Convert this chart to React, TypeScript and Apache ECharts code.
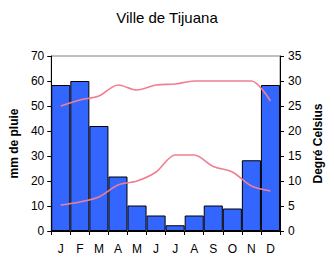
import React, { useEffect, useRef } from "react";
import * as echarts from "echarts";

const months = ["J", "F", "M", "A", "M", "J", "J", "A", "S", "O", "N", "D"];
const rainfall = [58.4, 60, 42, 21.8, 10.2, 6.2, 2.3, 6.2, 10.2, 9, 28.3, 58.4];
const tempMax = [25, 26.2, 27, 29.2, 28.2, 29.2, 29.4, 30, 30, 30, 30, 26];
const tempMin = [5.2, 5.8, 6.8, 9.2, 10, 11.8, 15.2, 15.2, 12.9, 11.8, 9, 8];

const font = "Arial, 'Liberation Sans', sans-serif";

export default function App() {
  const ref = useRef<HTMLDivElement>(null);
  useEffect(() => {
    const chart = echarts.init(ref.current!, null, { renderer: "svg" });
    chart.setOption({
      animation: false,
      backgroundColor: "#ffffff",
      title: {
        text: "Ville de Tijuana",
        left: "center",
        top: 5,
        textStyle: { fontFamily: font, fontSize: 15, fontWeight: "normal", color: "#000" },
      },
      grid: { left: 49, right: 54, top: 56, bottom: 35, show: true, borderColor: "#808080", borderWidth: 1 },
      xAxis: {
        type: "category",
        data: months,
        boundaryGap: true,
        axisLine: { lineStyle: { color: "#000", width: 1 } },
        axisTick: { show: true, alignWithLabel: false, length: 4, lineStyle: { color: "#000" } },
        axisLabel: { fontFamily: font, fontSize: 12, color: "#000", margin: 12 },
      },
      yAxis: [
        {
          type: "value",
          min: 0,
          max: 70,
          interval: 10,
          position: "left",
          name: "mm de pluie",
          nameLocation: "middle",
          nameRotate: 90,
          nameGap: 28,
          nameTextStyle: { fontFamily: font, fontSize: 12, fontWeight: "bold", color: "#000" },
          axisLine: { show: true, lineStyle: { color: "#000" } },
          axisTick: { show: true, length: 4, lineStyle: { color: "#000" } },
          axisLabel: { fontFamily: font, fontSize: 12, color: "#000", margin: 7 },
          splitLine: { show: false },
        },
        {
          type: "value",
          min: 0,
          max: 35,
          interval: 5,
          position: "right",
          name: "Degré Celsius",
          nameLocation: "middle",
          nameRotate: 90,
          nameGap: 30,
          nameTextStyle: { fontFamily: font, fontSize: 12, fontWeight: "bold", color: "#000" },
          axisLine: { show: true, lineStyle: { color: "#000" } },
          axisTick: { show: true, length: 4, lineStyle: { color: "#000" } },
          axisLabel: { fontFamily: font, fontSize: 12, color: "#000", margin: 8 },
          splitLine: { show: false },
        },
      ],
      series: [
        {
          type: "bar",
          data: rainfall,
          yAxisIndex: 0,
          barCategoryGap: "0%",
          barGap: "0%",
          itemStyle: { color: "#3366ff", borderColor: "#000", borderWidth: 1 },
        },
        {
          type: "line",
          data: tempMax,
          yAxisIndex: 1,
          smooth: 0.3,
          symbol: "none",
          lineStyle: { color: "#f08090", width: 1.6 },
        },
        {
          type: "line",
          data: tempMin,
          yAxisIndex: 1,
          smooth: 0.3,
          symbol: "none",
          lineStyle: { color: "#f08090", width: 1.6 },
        },
      ],
    });
    return () => chart.dispose();
  }, []);
  return <div ref={ref} style={{ width: 334, height: 266, position: "absolute", left: 0, top: 0 }} />;
}
